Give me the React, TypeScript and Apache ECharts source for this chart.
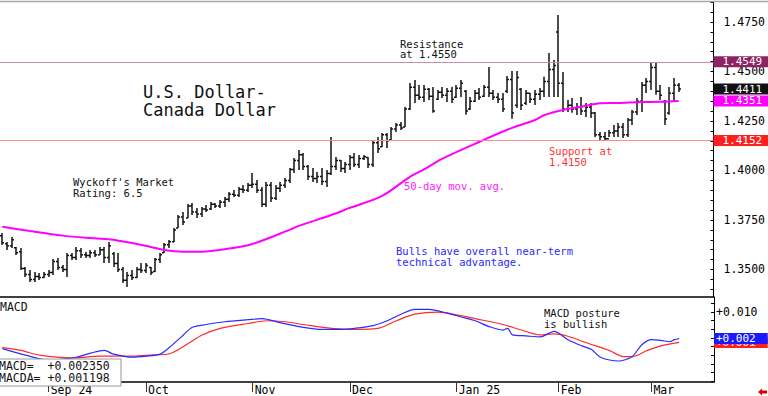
import React, { useEffect, useRef } from 'react';
import * as echarts from 'echarts';

const MONO = '"DejaVu Sans Mono", "Liberation Mono", monospace';

const categoryCount = 154;
const monthTicks = [
  { index: 10, label: 'Sep 24' },
  { index: 31, label: 'Oct' },
  { index: 54, label: 'Nov' },
  { index: 75, label: 'Dec' },
  { index: 98, label: 'Jan 25' },
  { index: 120, label: 'Feb' },
  { index: 140, label: 'Mar' },
];

const opens = [
  1.3670, 1.3630, 1.3620, 1.3610, 1.3590, 1.3505, 1.3475, 1.3450, 1.3465, 1.3460,
  1.3475, 1.3485, 1.3540, 1.3510, 1.3500, 1.3570, 1.3560, 1.3595, 1.3575, 1.3570,
  1.3585, 1.3575, 1.3600, 1.3560, 1.3580, 1.3530, 1.3500, 1.3445, 1.3470, 1.3460,
  1.3500, 1.3495, 1.3510, 1.3490, 1.3550, 1.3585, 1.3625, 1.3640, 1.3710, 1.3765,
  1.3760, 1.3820, 1.3790, 1.3780, 1.3805, 1.3805, 1.3830, 1.3820, 1.3840, 1.3855,
  1.3880, 1.3875, 1.3905, 1.3900, 1.3925, 1.3930, 1.3900, 1.3830, 1.3925, 1.3860,
  1.3910, 1.3925, 1.3950, 1.4005, 1.4050, 1.4080, 1.4020, 1.3970, 1.3960, 1.3970,
  1.3945, 1.3985, 1.4020, 1.4050, 1.4010, 1.4030, 1.4065, 1.4030, 1.4060, 1.4065,
  1.4030, 1.4140, 1.4120, 1.4180, 1.4155, 1.4210, 1.4230, 1.4220, 1.4310, 1.4420,
  1.4380, 1.4370, 1.4410, 1.4375, 1.4360, 1.4395, 1.4380, 1.4400, 1.4370, 1.4415,
  1.4400, 1.4310, 1.4350, 1.4390, 1.4375, 1.4420, 1.4390, 1.4370, 1.4360, 1.4400,
  1.4460, 1.4330, 1.4410, 1.4340, 1.4390, 1.4360, 1.4385, 1.4400, 1.4450, 1.4510,
  1.4700, 1.4440, 1.4310, 1.4330, 1.4310, 1.4320, 1.4300, 1.4320, 1.4290, 1.4180,
  1.4170, 1.4160, 1.4190, 1.4200, 1.4220, 1.4180, 1.4255, 1.4295, 1.4350, 1.4430,
  1.4450, 1.4520, 1.4400, 1.4350, 1.4290, 1.4390, 1.4430,
];
const highs = [
  1.3684, 1.3639, 1.3664, 1.3614, 1.3609, 1.3513, 1.3497, 1.3487, 1.3482, 1.3487,
  1.3497, 1.3553, 1.3558, 1.3523, 1.3583, 1.3583, 1.3614, 1.3609, 1.3588, 1.3598,
  1.3598, 1.3614, 1.3614, 1.3639, 1.3588, 1.3583, 1.3513, 1.3487, 1.3497, 1.3513,
  1.3533, 1.3533, 1.3513, 1.3558, 1.3583, 1.3634, 1.3649, 1.3710, 1.3775, 1.3790,
  1.3831, 1.3836, 1.3811, 1.3816, 1.3826, 1.3841, 1.3836, 1.3851, 1.3866, 1.3891,
  1.3901, 1.3917, 1.3927, 1.3937, 1.3987, 1.3952, 1.3917, 1.3942, 1.3942, 1.3927,
  1.3942, 1.3962, 1.4013, 1.4063, 1.4104, 1.4088, 1.4028, 1.4013, 1.3992, 1.4013,
  1.4003, 1.4169, 1.4068, 1.4053, 1.4043, 1.4078, 1.4088, 1.4078, 1.4078, 1.4068,
  1.4154, 1.4169, 1.4189, 1.4189, 1.4220, 1.4240, 1.4245, 1.4321, 1.4442, 1.4457,
  1.4432, 1.4432, 1.4417, 1.4422, 1.4407, 1.4422, 1.4417, 1.4422, 1.4432, 1.4457,
  1.4407, 1.4371, 1.4407, 1.4417, 1.4432, 1.4523, 1.4407, 1.4392, 1.4392, 1.4477,
  1.4503, 1.4503, 1.4417, 1.4407, 1.4392, 1.4407, 1.4417, 1.4473, 1.4594, 1.4558,
  1.4785, 1.4497, 1.4356, 1.4366, 1.4341, 1.4371, 1.4341, 1.4341, 1.4296, 1.4195,
  1.4195, 1.4205, 1.4230, 1.4240, 1.4240, 1.4265, 1.4306, 1.4366, 1.4447, 1.4467,
  1.4543, 1.4543, 1.4432, 1.4356, 1.4422, 1.4467, 1.4442,
];
const lows = [
  1.3624, 1.3598, 1.3609, 1.3573, 1.3497, 1.3462, 1.3437, 1.3437, 1.3447, 1.3457,
  1.3462, 1.3472, 1.3497, 1.3487, 1.3462, 1.3548, 1.3548, 1.3558, 1.3558, 1.3558,
  1.3563, 1.3573, 1.3533, 1.3533, 1.3513, 1.3487, 1.3432, 1.3412, 1.3447, 1.3457,
  1.3482, 1.3482, 1.3472, 1.3487, 1.3533, 1.3583, 1.3609, 1.3639, 1.3710, 1.3725,
  1.3760, 1.3775, 1.3760, 1.3765, 1.3790, 1.3800, 1.3811, 1.3811, 1.3816, 1.3841,
  1.3866, 1.3866, 1.3886, 1.3891, 1.3912, 1.3886, 1.3816, 1.3816, 1.3841, 1.3851,
  1.3891, 1.3912, 1.3937, 1.3987, 1.4003, 1.4003, 1.3952, 1.3942, 1.3937, 1.3927,
  1.3917, 1.3977, 1.4003, 1.3992, 1.3987, 1.4003, 1.4018, 1.4013, 1.4053, 1.4013,
  1.4018, 1.4088, 1.4119, 1.4114, 1.4154, 1.4195, 1.4205, 1.4220, 1.4306, 1.4341,
  1.4356, 1.4346, 1.4356, 1.4291, 1.4356, 1.4366, 1.4346, 1.4341, 1.4366, 1.4371,
  1.4281, 1.4306, 1.4346, 1.4356, 1.4371, 1.4371, 1.4356, 1.4341, 1.4296, 1.4392,
  1.4261, 1.4316, 1.4306, 1.4331, 1.4341, 1.4331, 1.4356, 1.4371, 1.4371, 1.4371,
  1.4371, 1.4296, 1.4296, 1.4291, 1.4280, 1.4280, 1.4270, 1.4265, 1.4169, 1.4154,
  1.4149, 1.4169, 1.4169, 1.4169, 1.4164, 1.4169, 1.4230, 1.4280, 1.4296, 1.4392,
  1.4407, 1.4382, 1.4356, 1.4230, 1.4281, 1.4346, 1.4397,
];
const closes = [
  1.3635, 1.3620, 1.3650, 1.3585, 1.3505, 1.3475, 1.3450, 1.3465, 1.3460, 1.3475,
  1.3485, 1.3540, 1.3510, 1.3500, 1.3570, 1.3560, 1.3595, 1.3575, 1.3570, 1.3585,
  1.3575, 1.3600, 1.3560, 1.3620, 1.3530, 1.3500, 1.3445, 1.3470, 1.3460, 1.3500,
  1.3495, 1.3520, 1.3485, 1.3550, 1.3575, 1.3625, 1.3640, 1.3700, 1.3765, 1.3740,
  1.3820, 1.3790, 1.3780, 1.3805, 1.3800, 1.3830, 1.3820, 1.3840, 1.3855, 1.3880,
  1.3875, 1.3905, 1.3900, 1.3925, 1.3930, 1.3900, 1.3830, 1.3925, 1.3860, 1.3910,
  1.3925, 1.3950, 1.4005, 1.4050, 1.4080, 1.4020, 1.3970, 1.3960, 1.3970, 1.3945,
  1.3985, 1.4020, 1.4050, 1.4010, 1.4030, 1.4065, 1.4030, 1.4060, 1.4070, 1.4030,
  1.4140, 1.4110, 1.4180, 1.4150, 1.4210, 1.4230, 1.4215, 1.4310, 1.4420, 1.4380,
  1.4370, 1.4410, 1.4375, 1.4300, 1.4395, 1.4380, 1.4400, 1.4360, 1.4415, 1.4440,
  1.4300, 1.4350, 1.4390, 1.4370, 1.4420, 1.4390, 1.4370, 1.4360, 1.4310, 1.4460,
  1.4290, 1.4470, 1.4330, 1.4390, 1.4360, 1.4385, 1.4400, 1.4450, 1.4510, 1.4530,
  1.4440, 1.4310, 1.4330, 1.4310, 1.4320, 1.4300, 1.4320, 1.4290, 1.4180, 1.4170,
  1.4160, 1.4190, 1.4200, 1.4220, 1.4180, 1.4255, 1.4295, 1.4350, 1.4430, 1.4450,
  1.4520, 1.4400, 1.4380, 1.4260, 1.4390, 1.4430, 1.4411,
];

const ma50Points = [
  [0, 1.3716], [6, 1.3694], [13, 1.3671], [19, 1.3659], [23, 1.3653], [28, 1.3634],
  [32, 1.3614], [35, 1.3598], [39, 1.3590], [43, 1.3590], [48, 1.3602], [54, 1.3629],
  [62, 1.3700], [64, 1.3720], [71, 1.3775], [75, 1.3811], [82, 1.3872], [88, 1.3968],
  [91, 1.4005], [95, 1.4060], [103, 1.4145], [110, 1.4215], [115, 1.4255], [117, 1.4280],
  [121, 1.4306], [125, 1.4322], [129, 1.4339], [133, 1.4341], [138, 1.4346], [142, 1.4347],
  [146, 1.4351],
];

const macdPoints = [
  [0, -0.0006], [5, -0.0025], [10, -0.0039], [16, -0.0031], [19, -0.0019], [22, -0.0011],
  [24, -0.0022], [28, -0.0031], [31, -0.0028], [34, -0.0022], [36, -0.0003], [39, 0.0033],
  [41, 0.0056], [44, 0.0064], [48, 0.0072], [53, 0.0078], [56, 0.0081], [60, 0.0069],
  [64, 0.0058], [69, 0.0050], [73, 0.0050], [76, 0.0053], [80, 0.0061], [83, 0.0075],
  [86, 0.0094], [89, 0.0108], [92, 0.0108], [96, 0.0097], [99, 0.0086], [102, 0.0075],
  [105, 0.0058], [108, 0.0048], [109, 0.0053], [110, 0.0034], [113, 0.0031], [116, 0.0028],
  [118, 0.0039], [119, 0.0044], [122, 0.0020], [125, 0.0002], [127, -0.0008], [129, -0.0031],
  [133, -0.0042], [135, -0.0035], [136, -0.0028], [138, 0.0006], [140, 0.0020], [142, 0.0018],
  [144, 0.0014], [145, 0.0020], [146, 0.00235],
];
const signalPoints = [
  [0, -0.0003], [4, -0.0011], [8, -0.0025], [15, -0.0033], [21, -0.0028], [28, -0.0028],
  [32, -0.0025], [36, -0.0021], [40, 0.0008], [43, 0.0033], [47, 0.0053], [53, 0.0067],
  [57, 0.0075], [61, 0.0072], [65, 0.0064], [71, 0.0053], [76, 0.0050], [81, 0.0053],
  [85, 0.0075], [89, 0.0094], [94, 0.0100], [98, 0.0092], [102, 0.0081], [108, 0.0064],
  [112, 0.0048], [116, 0.0034], [119, 0.0037], [122, 0.0030], [126, 0.0011], [131, -0.0012],
  [134, -0.0029], [136, -0.0029], [139, -0.0012], [142, 0.0002], [146, 0.0012],
];

const priceLabels = [1.35, 1.375, 1.4, 1.425, 1.45, 1.475];
const macdLabels = [0.01];
const resistance = 1.4549;
const support = 1.4152;
const lastClose = 1.4411;
const lastMA = 1.4351;
const macdLast = 0.00235;
const macdaLast = 0.001198;

const priceMin = 1.3361;
const priceMax = 1.4851;
const macdMin = -0.0103;
const macdMax = 0.0144;

export default function App() {
  const ref = useRef<HTMLDivElement>(null);
  useEffect(() => {
    if (!ref.current) return;
    const chart = echarts.init(ref.current, null, { renderer: 'svg' });
    const cats = Array.from({ length: categoryCount }, (_, i) => String(i));
    const tickSet = new Set(monthTicks.map((m) => m.index));
    const labelMap: Record<number, string> = {};
    monthTicks.forEach((m) => (labelMap[m.index] = m.label));
    const priceTicks: number[] = [];
    for (let k = 268; k <= 297; k++) priceTicks.push(+(k * 0.005).toFixed(3));
    const macdTicks: number[] = [];
    for (let k = -4; k <= 5; k++) macdTicks.push(+(k * 0.0025).toFixed(4));

    const ohlc = opens.map((o, i) => [i, o, highs[i], lows[i], closes[i]]);
    const txt = (x: number, y: number, text: string, fill: string, size = 10.5) => ({
      type: 'text', x, y, z: 100,
      style: { text, fill, fontFamily: MONO, fontSize: size, lineHeight: size, align: 'left', verticalAlign: 'top' },
    });
    const tagLabel = (bg: string, fmt: (v: number) => string, padLeft: number) => ({
      show: true, position: 'end', distance: 0, formatter: (p: any) => fmt(p.value),
      color: '#fff', backgroundColor: bg, fontFamily: MONO, fontSize: 11, lineHeight: 10,
      padding: [1, 12, 0, padLeft],
    });
    const tagLine = (
      value: number, color: string, width: number, bg: string,
      fmt: (v: number) => string, padLeft: number, precision: number, z: number,
    ) => ({
      type: 'line', xAxisIndex: precision > 4 ? 1 : 0, yAxisIndex: precision > 4 ? 1 : 0, z,
      data: [], silent: true,
      markLine: {
        silent: true, symbol: ['none', 'none'], animation: false, precision,
        lineStyle: { color, width, type: 'solid', opacity: 1 },
        label: tagLabel(bg, fmt, padLeft),
        data: [{ yAxis: value }],
      },
    });
    const fmtPrice = (v: number) => v.toFixed(4);
    const fmtMacd = (v: number) => (v >= 0 ? '+' : '') + v.toFixed(3);

    chart.setOption({
      animation: false,
      backgroundColor: '#fff',
      grid: [
        { left: 0, right: 54, top: 2, height: 295 },
        { left: 0, right: 54, top: 297, height: 89 },
      ],
      xAxis: [
        {
          type: 'category', gridIndex: 0, data: cats, boundaryGap: true, position: 'bottom',
          axisLine: { show: true, onZero: false, lineStyle: { color: '#000', width: 1.5 } },
          axisTick: { show: false }, axisLabel: { show: false }, splitLine: { show: false },
        },
        {
          type: 'category', gridIndex: 1, data: cats, boundaryGap: true, position: 'bottom',
          axisLine: { show: true, onZero: false, lineStyle: { color: '#000', width: 1.5 } },
          axisTick: {
            show: true, alignWithLabel: true, length: 10,
            interval: (i: number) => tickSet.has(i), lineStyle: { color: '#333', width: 1 },
          },
          axisLabel: {
            show: true, interval: (i: number) => tickSet.has(i),
            formatter: (_v: string, i: number) => labelMap[i] || '',
            align: 'left', margin: 2, padding: [0, 0, 0, 2],
            fontFamily: MONO, fontSize: 11.5, color: '#000',
          },
          splitLine: { show: false },
        },
      ],
      yAxis: [
        {
          type: 'value', gridIndex: 0, position: 'right', min: priceMin, max: priceMax,
          axisLine: { show: true, lineStyle: { color: '#000', width: 1 } },
          axisTick: { show: true, inside: true, length: 3, customValues: priceTicks, lineStyle: { color: '#000' } },
          axisLabel: {
            show: true, customValues: priceLabels, formatter: (v: number) => v.toFixed(4),
            margin: 10, fontFamily: MONO, fontSize: 11.5, color: '#000',
          },
          splitLine: { show: false },
        },
        {
          type: 'value', gridIndex: 1, position: 'right', min: macdMin, max: macdMax,
          axisLine: { show: true, lineStyle: { color: '#000', width: 1 } },
          axisTick: { show: true, inside: true, length: 3, customValues: macdTicks, lineStyle: { color: '#000' } },
          axisLabel: {
            show: true, customValues: macdLabels,
            formatter: (v: number) => (v > 0 ? '+' : '') + v.toFixed(3),
            margin: 2, fontFamily: MONO, fontSize: 11.5, color: '#000',
          },
          splitLine: { show: false },
        },
      ],
      series: [
        tagLine(support, '#ff8a8a', 1.2, '#ff1f1f', fmtPrice, 9, 4, 2),
        tagLine(resistance, '#cc8ab0', 1.2, '#8e2363', fmtPrice, 9, 4, 2),
        tagLine(lastMA, 'rgba(0,0,0,0)', 0, '#ff00ff', fmtPrice, 9, 4, 5),
        tagLine(lastClose, 'rgba(0,0,0,0)', 0, '#111111', fmtPrice, 9, 4, 6),
        {
          type: 'custom', name: 'USDCAD', xAxisIndex: 0, yAxisIndex: 0, z: 3,
          data: ohlc, encode: { x: 0, y: [1, 2, 3, 4] },
          renderItem: (_params: any, api: any) => {
            const idx = api.value(0);
            const o = api.coord([idx, api.value(1)]);
            const h = api.coord([idx, api.value(2)]);
            const l = api.coord([idx, api.value(3)]);
            const c = api.coord([idx, api.value(4)]);
            const x = Math.round(h[0]);
            const style = { stroke: '#111', lineWidth: 1.5 };
            return {
              type: 'group',
              children: [
                { type: 'line', shape: { x1: x, y1: h[1], x2: x, y2: l[1] }, style },
                { type: 'line', shape: { x1: x - 2, y1: o[1], x2: x, y2: o[1] }, style },
                { type: 'line', shape: { x1: x, y1: c[1], x2: x + 2, y2: c[1] }, style },
              ],
            };
          },
        },
        {
          type: 'line', name: '50-day', xAxisIndex: 0, yAxisIndex: 0, z: 4,
          data: ma50Points, smooth: 0.3, showSymbol: false, symbol: 'none',
          lineStyle: { color: '#ff00ff', width: 2 },
        },
        {
          type: 'line', name: 'MACDA', xAxisIndex: 1, yAxisIndex: 1, z: 3,
          data: signalPoints, smooth: 0.3, showSymbol: false, symbol: 'none',
          lineStyle: { color: '#ff2b2b', width: 1.2 },
        },
        {
          type: 'line', name: 'MACD', xAxisIndex: 1, yAxisIndex: 1, z: 4,
          data: macdPoints, smooth: 0.3, showSymbol: false, symbol: 'none',
          lineStyle: { color: '#2b2bff', width: 1.2 },
        },
        tagLine(macdaLast, 'rgba(0,0,0,0)', 0, '#ff1f1f', fmtMacd, 2, 6, 5),
        tagLine(macdLast, 'rgba(0,0,0,0)', 0, '#1a1aff', fmtMacd, 2, 6, 6),
      ],
      graphic: [
        { type: 'line', z: 100, shape: { x1: 0, y1: 1.5, x2: 768, y2: 1.5 }, style: { stroke: '#a8a8a8', lineWidth: 1.5 } },
        txt(400, 38.5, 'Resistance', '#111'),
        txt(400, 49, 'at 1.4550', '#111'),
        txt(143, 83, 'U.S. Dollar-', '#111', 17),
        txt(143, 101, 'Canada Dollar', '#111', 17),
        txt(73, 177, "Wyckoff's Market", '#111'),
        txt(73, 187.5, 'Rating: 6.5', '#111'),
        txt(404, 181, '50-day mov. avg.', '#ff20ff'),
        txt(396, 246, 'Bulls have overall near-term', '#2a2aff'),
        txt(396, 256.5, 'technical advantage.', '#2a2aff'),
        txt(549, 146, 'Support at', '#ff3333'),
        txt(549, 156.5, '1.4150', '#ff3333'),
        txt(544, 308, 'MACD posture', '#111'),
        txt(544, 318.5, 'is bullish', '#111'),
        txt(0, 301, 'MACD', '#111', 11.5),
        { type: 'rect', z: 100, shape: { x: -1, y: 359, width: 122, height: 27 }, style: { fill: '#fff', stroke: '#999', lineWidth: 1 } },
        txt(-1, 360, 'MACD=  +' + macdLast.toFixed(6), '#111', 11.5),
        txt(-1, 372, 'MACDA= +' + macdaLast.toFixed(6), '#111', 11.5),
        {
          type: 'polygon', z: 100,
          shape: { points: [[758, 392], [762, 388.5], [762, 390.5], [767, 390.5], [767, 393.5], [762, 393.5], [762, 395.5]] },
          style: { fill: '#e00000' },
        },
      ],
    });
    return () => chart.dispose();
  }, []);
  return (
    <div
      ref={ref}
      style={{ position: 'fixed', left: 0, top: 0, width: 768, height: 396, background: '#fff' }}
    />
  );
}
